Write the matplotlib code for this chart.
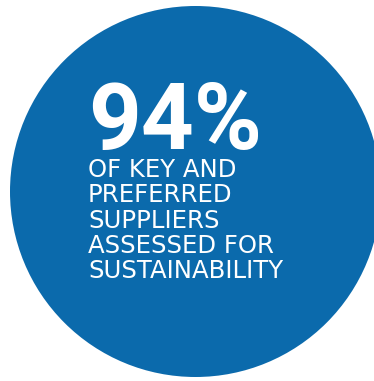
import matplotlib
matplotlib.use("Agg")
from matplotlib import pyplot as plt
from matplotlib.patches import Circle

# headline figure and caption
share_assessed = 94
caption_lines = ["OF KEY AND", "PREFERRED", "SUPPLIERS", "ASSESSED FOR", "SUSTAINABILITY"]

blue = "#0b6aac"

fig = plt.figure(figsize=(3.74, 3.81), dpi=100)
ax = fig.add_axes([0, 0, 1, 1])
ax.set_xlim(0, 374)
ax.set_ylim(381, 0)
ax.set_aspect("equal")
ax.axis("off")

# big blue disc (runs off the right edge)
ax.add_patch(Circle((195.5, 191.5), 185.5, color=blue, lw=0))

# headline
ax.text(88, 149, f"{share_assessed}%", color="white", fontsize=66.5,
        fontfamily="Roboto", fontweight="bold", ha="left", va="baseline")

# caption, one line at a time
for i, line in enumerate(caption_lines):
    ax.text(88, 177 + i * 25.3, line, color="white", fontsize=17.6,
            fontfamily="DejaVu Sans", ha="left", va="baseline")

fig.savefig("out.png", dpi=100, facecolor="white")
